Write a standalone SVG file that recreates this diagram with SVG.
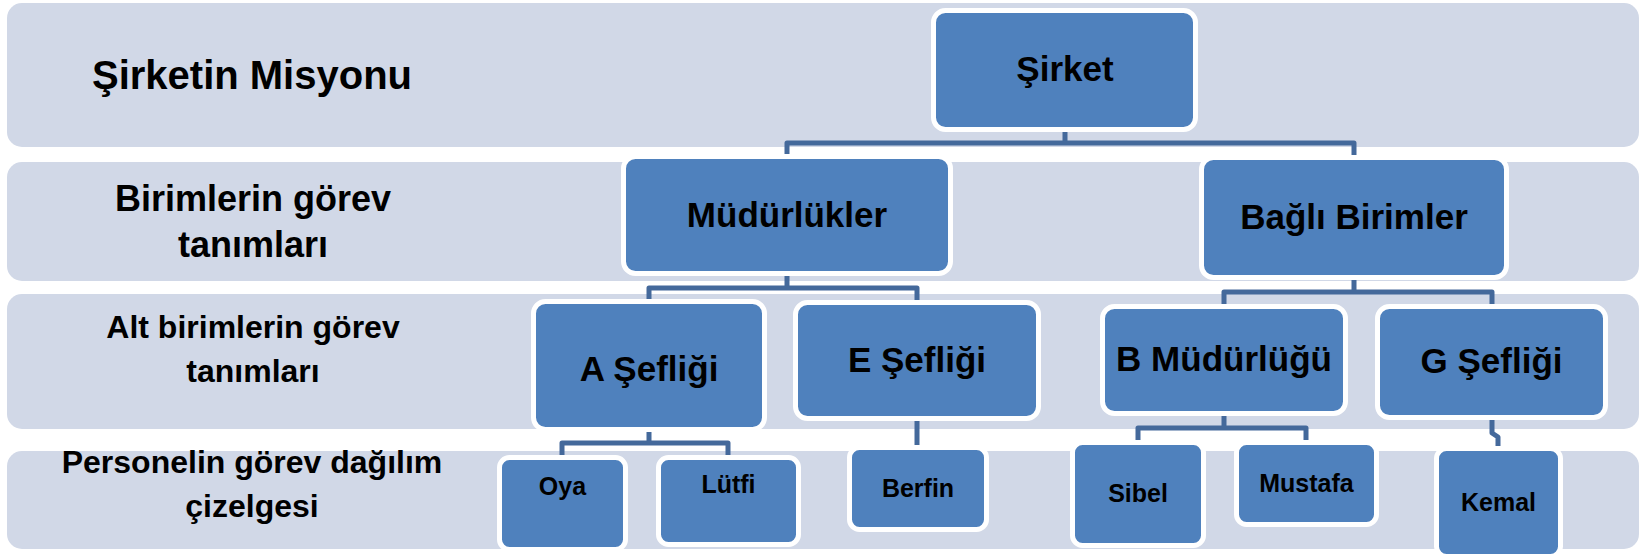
<svg xmlns="http://www.w3.org/2000/svg" width="1647" height="554" viewBox="0 0 1647 554">
  <style>
    .band { fill: #D1D8E7; }
    .box { fill: #4F81BD; stroke: #FFFFFF; stroke-width: 5; }
    .lbl { font-family: "Liberation Sans", Arial, sans-serif; font-weight: bold; fill: #000000; text-anchor: middle; }
    .row { font-size: 32px; }
    .n { font-size: 35px; }
    .leaf { font-size: 25px; }
    .conn { fill: none; stroke: #44699B; stroke-width: 5; stroke-linejoin: round; }
  </style>
  <rect width="1647" height="554" fill="#FFFFFF"/>

  <!-- horizontal level bands -->
  <g id="bands">
    <rect class="band" x="7" y="3" width="1632" height="144" rx="15"/>
    <rect class="band" x="7" y="162" width="1632" height="119" rx="15"/>
    <rect class="band" x="7" y="294" width="1632" height="135" rx="15"/>
    <rect class="band" x="7" y="451" width="1632" height="98" rx="15"/>
  </g>

  <!-- level captions -->
  <g id="row-labels">
    <text class="lbl" x="252" y="89" font-size="40">Şirketin Misyonu</text>
    <text class="lbl" x="253" y="211" font-size="36">Birimlerin görev</text>
    <text class="lbl" x="253" y="257" font-size="36">tanımları</text>
    <text class="lbl row" x="253" y="338">Alt birimlerin görev</text>
    <text class="lbl row" x="253" y="382">tanımları</text>
    <text class="lbl row" x="252" y="473">Personelin görev dağılım</text>
    <text class="lbl row" x="252" y="517">çizelgesi</text>
  </g>

  <!-- org chart connectors -->
  <g id="connectors">
    <path class="conn" d="M1065 129 V143 M787 157 V143 H1354 V157"/>
    <path class="conn" d="M787 273 V288 M649 300 V288 H917 V300"/>
    <path class="conn" d="M1354 277 V292 M1224 306 V292 H1492 V306"/>
    <path class="conn" d="M649 429 V443 M562 458 V443 H728 V458"/>
    <path class="conn" d="M917 418 V448"/>
    <path class="conn" d="M1224 413 V428 M1138 443 V428 H1306 V443"/>
    <path class="conn" d="M1492 417 V433 L1498 437 V450"/>
  </g>

  <g id="sirket">
    <rect class="box" x="933.5" y="10.5" width="262" height="119" rx="12"/>
    <text class="lbl n" x="1065" y="81" font-size="36">Şirket</text>
  </g>
  <g id="mudurlukler">
    <rect class="box" x="623.5" y="156.5" width="327" height="117" rx="12"/>
    <text class="lbl n" x="787" y="227" font-size="36">Müdürlükler</text>
  </g>
  <g id="bagli-birimler">
    <rect class="box" x="1201.5" y="157.5" width="305" height="120" rx="12"/>
    <text class="lbl n" x="1354" y="229" font-size="34">Bağlı Birimler</text>
  </g>
  <g id="a-sefligi">
    <rect class="box" x="533.5" y="301.5" width="231" height="128" rx="12"/>
    <text class="lbl n" x="649" y="381">A Şefliği</text>
  </g>
  <g id="e-sefligi">
    <rect class="box" x="795.5" y="302.5" width="243" height="116" rx="12"/>
    <text class="lbl n" x="917" y="372">E Şefliği</text>
  </g>
  <g id="b-mudurlugu">
    <rect class="box" x="1102.5" y="306.5" width="243" height="107" rx="12"/>
    <text class="lbl n" x="1224" y="371" font-size="33">B Müdürlüğü</text>
  </g>
  <g id="g-sefligi">
    <rect class="box" x="1377.5" y="306.5" width="228" height="111" rx="12"/>
    <text class="lbl n" x="1491.5" y="373">G Şefliği</text>
  </g>
  <g id="oya">
    <rect class="box" x="499.5" y="457.5" width="126" height="92" rx="10"/>
    <text class="lbl leaf" x="562.5" y="495">Oya</text>
  </g>
  <g id="lutfi">
    <rect class="box" x="658.5" y="457.5" width="140" height="87" rx="10"/>
    <text class="lbl leaf" x="728.5" y="493">Lütfi</text>
  </g>
  <g id="berfin">
    <rect class="box" x="849.5" y="447.5" width="137" height="82" rx="10"/>
    <text class="lbl leaf" x="918" y="497">Berfin</text>
  </g>
  <g id="sibel">
    <rect class="box" x="1072.5" y="442.5" width="131" height="103" rx="10"/>
    <text class="lbl leaf" x="1138" y="502">Sibel</text>
  </g>
  <g id="mustafa">
    <rect class="box" x="1236.5" y="442.5" width="140" height="82" rx="10"/>
    <text class="lbl leaf" x="1306.5" y="492" font-size="26">Mustafa</text>
  </g>
  <g id="kemal">
    <rect class="box" x="1436.5" y="448.5" width="124" height="108" rx="10"/>
    <text class="lbl leaf" x="1498.5" y="511">Kemal</text>
  </g>
</svg>
